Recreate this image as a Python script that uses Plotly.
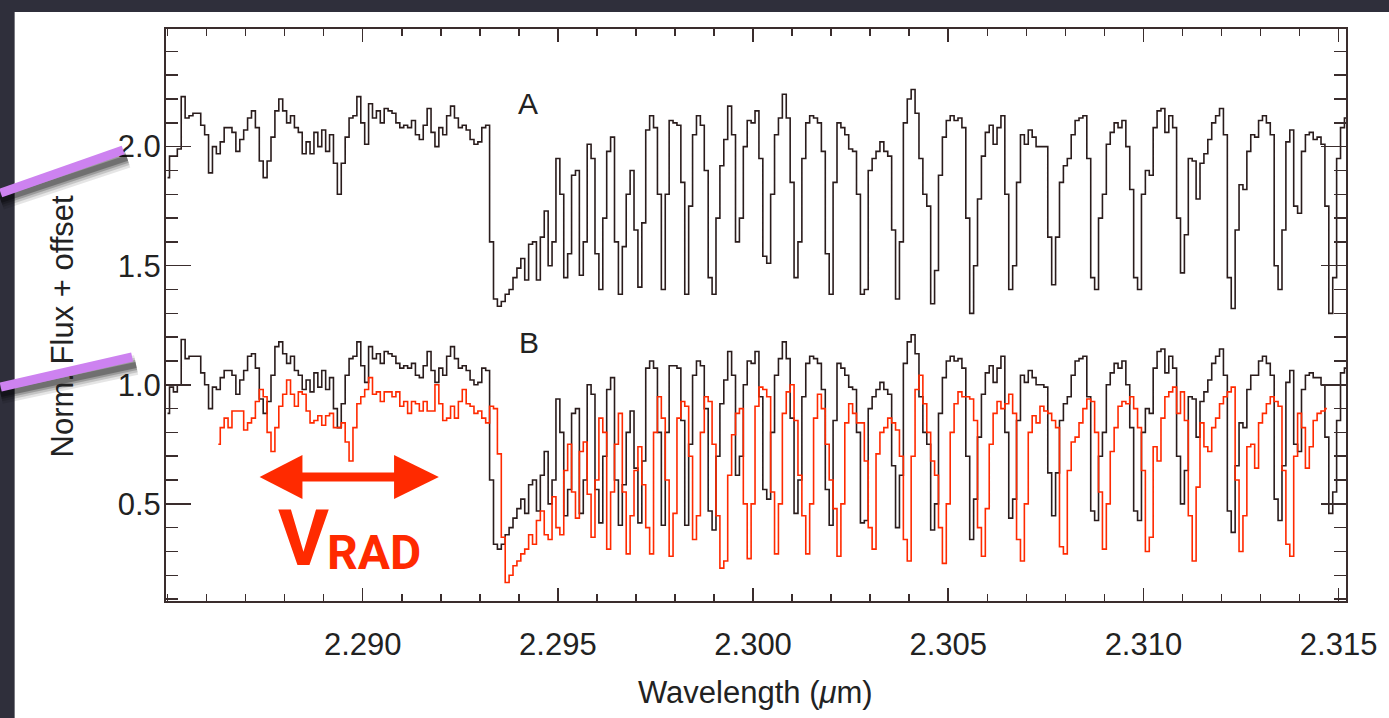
import plotly.graph_objects as go

# ---------------- data ----------------
WL_START = 2.2850      # first sample (micron)
WL_STEP = 0.0001       # sampling step (micron)

# Spectrum A (plotted with +1 offset already included, as read)
flux_a = [
    1.87, 1.96, 1.96, 1.99, 2.21, 2.12, 2.13, 2.14, 2.14, 2.09,
    2.05, 1.89, 2.00, 1.97, 2.02, 2.08, 2.08, 2.06, 1.98, 2.03,
    2.07, 2.12, 2.15, 2.08, 1.94, 1.87, 1.94, 2.04, 2.15, 2.20,
    2.15, 2.10, 2.13, 2.08, 2.06, 1.97, 2.02, 1.97, 2.06, 2.00,
    2.07, 1.98, 2.05, 1.93, 1.80, 1.93, 2.04, 2.12, 2.13, 2.21,
    2.10, 2.01, 2.18, 2.12, 2.15, 2.10, 2.16, 2.15, 2.14, 2.10,
    2.08, 2.09, 2.08, 2.11, 2.05, 2.03, 2.09, 2.16, 2.06, 2.00,
    2.08, 2.05, 2.13, 2.17, 2.12, 2.08, 2.09, 2.07, 2.03, 2.01,
    2.02, 2.08, 2.09, 1.60, 1.36, 1.33, 1.35, 1.38, 1.40, 1.45,
    1.49, 1.53, 1.44, 1.59, 1.60, 1.44, 1.62, 1.73, 1.50, 1.60,
    1.95, 1.80, 1.45, 1.55, 1.88, 1.90, 1.46, 1.60, 2.01, 1.95,
    1.55, 1.40, 1.70, 1.98, 2.04, 1.60, 1.38, 1.58, 1.80, 1.90,
    1.65, 1.41, 1.68, 2.07, 2.13, 2.08, 1.80, 1.40, 1.80, 2.11,
    2.10, 2.09, 1.85, 1.38, 1.75, 2.05, 2.13, 2.09, 1.90, 1.45,
    1.38, 1.70, 1.92, 2.03, 2.17, 2.05, 1.60, 1.70, 2.00, 2.11,
    2.10, 2.15, 1.95, 1.54, 1.51, 1.80, 2.05, 2.12, 2.22, 2.12,
    1.85, 1.45, 1.60, 1.95, 2.10, 2.13, 2.12, 2.10, 1.98, 1.55,
    1.38, 1.85, 2.10, 2.08, 2.05, 1.99, 1.98, 1.80, 1.38, 1.40,
    1.90, 1.95, 1.98, 2.02, 1.98, 1.96, 1.65, 1.36, 1.60, 2.10,
    2.20, 2.24, 2.14, 1.95, 1.80, 1.75, 1.34, 1.48, 1.88, 2.04,
    2.11, 2.13, 2.11, 2.12, 2.08, 1.70, 1.30, 1.50, 1.78, 1.96,
    2.06, 2.09, 2.01, 2.08, 2.13, 1.80, 1.40, 1.50, 1.85, 2.05,
    2.01, 2.07, 2.04, 2.00, 2.00, 2.00, 1.62, 1.42, 1.62, 1.85,
    1.92, 1.95, 2.05, 2.11, 2.12, 2.13, 1.95, 1.45, 1.40, 1.70,
    1.80, 2.01, 2.06, 2.10, 2.08, 2.11, 2.00, 1.82, 1.45, 1.40,
    1.80, 1.90, 1.88, 2.08, 2.15, 2.16, 2.06, 2.13, 2.08, 1.70,
    1.47, 1.63, 1.95, 1.94, 1.78, 1.93, 1.97, 2.03, 2.10, 2.13,
    2.16, 2.05, 1.45, 1.32, 1.65, 1.84, 1.82, 1.98, 2.05, 2.04,
    2.11, 2.13, 2.10, 2.05, 1.50, 1.40, 1.65, 2.02, 2.07, 1.75,
    1.72, 1.98, 2.05, 2.06, 2.03, 2.04, 2.01, 1.75, 1.30, 1.45,
    1.95, 2.08, 2.12,
]

# Spectrum B (black)
flux_b = [
    0.88, 0.99, 0.97, 1.00, 1.19, 1.11, 1.12, 1.12, 1.12, 1.05,
    1.00, 0.90, 0.99, 0.98, 1.03, 1.06, 1.06, 1.04, 0.96, 1.02,
    1.06, 1.12, 1.13, 1.07, 0.94, 0.88, 0.93, 1.04, 1.16, 1.18,
    1.13, 1.09, 1.12, 1.06, 1.04, 0.98, 1.02, 0.97, 1.05, 0.99,
    1.06, 0.98, 1.03, 0.90, 0.82, 0.92, 1.04, 1.11, 1.12, 1.18,
    1.08, 1.01, 1.16, 1.11, 1.13, 1.09, 1.14, 1.13, 1.12, 1.09,
    1.07, 1.08, 1.07, 1.09, 1.04, 1.03, 1.08, 1.14, 1.06, 1.01,
    1.07, 1.04, 1.12, 1.16, 1.11, 1.07, 1.08, 1.06, 1.02, 1.00,
    1.01, 1.07, 1.06, 0.60, 0.33, 0.31, 0.33, 0.37, 0.40, 0.44,
    0.48, 0.52, 0.46, 0.58, 0.60, 0.47, 0.62, 0.72, 0.50, 0.60,
    0.94, 0.80, 0.45, 0.56, 0.88, 0.90, 0.46, 0.60, 1.00, 0.96,
    0.56, 0.42, 0.70, 0.98, 1.03, 0.60, 0.41, 0.58, 0.80, 0.89,
    0.65, 0.42, 0.68, 1.07, 1.10, 1.07, 0.80, 0.41, 0.80, 1.08,
    1.08, 1.07, 0.85, 0.41, 0.75, 1.04, 1.10, 1.08, 0.90, 0.47,
    0.39, 0.70, 0.92, 1.02, 1.14, 1.04, 0.62, 0.70, 1.00, 1.10,
    1.09, 1.14, 0.95, 0.56, 0.52, 0.80, 1.04, 1.11, 1.18, 1.11,
    0.86, 0.46, 0.60, 0.95, 1.09, 1.12, 1.11, 1.09, 0.98, 0.56,
    0.41, 0.85, 1.09, 1.07, 1.04, 0.99, 0.98, 0.80, 0.42, 0.43,
    0.90, 0.95, 0.98, 1.01, 0.98, 0.96, 0.66, 0.40, 0.62, 1.09,
    1.18, 1.21, 1.13, 0.95, 0.80, 0.75, 0.39, 0.50, 0.88, 1.03,
    1.10, 1.12, 1.10, 1.11, 1.07, 0.70, 0.35, 0.52, 0.78, 0.96,
    1.05, 1.08, 1.01, 1.07, 1.12, 0.80, 0.44, 0.52, 0.85, 1.04,
    1.01, 1.06, 1.03, 1.00, 1.00, 0.99, 0.63, 0.45, 0.63, 0.85,
    0.92, 0.95, 1.04, 1.10, 1.11, 1.12, 0.95, 0.47, 0.43, 0.70,
    0.80, 1.00, 1.05, 1.09, 1.07, 1.10, 1.00, 0.82, 0.47, 0.43,
    0.80, 0.90, 0.88, 1.07, 1.14, 1.15, 1.05, 1.12, 1.07, 0.70,
    0.50, 0.64, 0.95, 0.94, 0.78, 0.93, 0.97, 1.02, 1.09, 1.12,
    1.15, 1.04, 0.47, 0.38, 0.66, 0.84, 0.82, 0.98, 1.04, 1.04,
    1.10, 1.12, 1.09, 1.04, 0.52, 0.43, 0.66, 1.01, 1.06, 0.75,
    0.72, 0.98, 1.04, 1.05, 1.03, 1.03, 1.00, 0.78, 0.46, 0.55,
    0.85, 1.05, 1.07,
]

# Red comparison spectrum, starts at sample index 13
RED_START_INDEX = 13
flux_red = [
    0.75, 0.82, 0.86, 0.82, 0.89, 0.89, 0.89,
    0.81, 0.84, 0.86, 0.93, 0.98, 0.95, 0.80, 0.72, 0.82, 0.91,
    0.96, 1.02, 0.96, 0.91, 0.97, 0.96, 0.89, 0.84, 0.85, 0.87,
    0.83, 0.87, 0.88, 0.82, 0.82, 0.84, 0.76, 0.68, 0.82, 0.92,
    0.95, 0.98, 1.03, 0.96, 0.97, 0.93, 0.97, 0.97, 0.95, 0.97,
    0.91, 0.93, 0.88, 0.93, 0.92, 0.89, 0.93, 0.89, 0.89, 1.00,
    0.92, 0.85, 0.86, 0.91, 0.86, 0.93, 0.98, 0.92, 0.91, 0.88,
    0.89, 0.86, 0.84, 0.91, 0.90, 0.71, 0.36, 0.17, 0.20, 0.24,
    0.26, 0.29, 0.31, 0.37, 0.33, 0.43, 0.47, 0.37, 0.35, 0.53,
    0.40, 0.37, 0.64, 0.75, 0.55, 0.44, 0.72, 0.76, 0.54, 0.36,
    0.60, 0.86, 0.80, 0.31, 0.55, 0.75, 0.88, 0.55, 0.29, 0.45,
    0.64, 0.74, 0.58, 0.40, 0.29, 0.80, 0.95, 0.86, 0.60, 0.28,
    0.46, 0.86, 0.93, 0.91, 0.70, 0.35, 0.45, 0.80, 0.95, 0.93,
    0.75, 0.45, 0.23, 0.26, 0.62, 0.79, 0.88, 0.90, 0.50, 0.27,
    0.50, 0.91, 0.99, 0.98, 0.95, 0.55, 0.29, 0.50, 0.88, 0.97,
    1.00, 0.85, 0.62, 0.45, 0.29, 0.50, 0.86, 0.96, 0.90, 0.75,
    0.60, 0.48, 0.28, 0.50, 0.84, 0.92, 0.88, 0.84, 0.84, 0.68,
    0.40, 0.31, 0.71, 0.80, 0.82, 0.86, 0.84, 0.81, 0.70, 0.35,
    0.26, 0.70, 0.98, 1.04, 0.92, 0.80, 0.68, 0.62, 0.40, 0.25,
    0.50, 0.80, 0.92, 0.97, 0.95, 0.95, 0.94, 0.85, 0.40, 0.28,
    0.48, 0.75, 0.88, 0.93, 0.90, 0.92, 0.96, 0.88, 0.35, 0.26,
    0.50, 0.80, 0.87, 0.84, 0.91, 0.89, 0.88, 0.85, 0.82, 0.32,
    0.29, 0.64, 0.76, 0.78, 0.84, 0.90, 0.94, 0.93, 0.80, 0.55,
    0.31, 0.50, 0.72, 0.82, 0.91, 0.93, 0.92, 0.95, 0.90, 0.82,
    0.64, 0.30, 0.36, 0.74, 0.68, 0.86, 0.95, 0.97, 0.99, 0.88,
    0.97, 0.85, 0.45, 0.26, 0.57, 0.84, 0.74, 0.72, 0.82, 0.86,
    0.92, 0.95, 0.97, 0.99, 0.60, 0.30, 0.45, 0.74, 0.75, 0.65,
    0.84, 0.88, 0.92, 0.95, 0.93, 0.91, 0.64, 0.33, 0.28, 0.70,
    0.88, 0.82, 0.65, 0.74, 0.85, 0.88, 0.89, 0.90,
]

wavelength = [round(WL_START + WL_STEP * i, 4) for i in range(len(flux_a))]
wavelength_red = wavelength[RED_START_INDEX:RED_START_INDEX + len(flux_red)]

X_TICKS = [2.290, 2.295, 2.300, 2.305, 2.310, 2.315]
X_TICK_TEXT = ["2.290", "2.295", "2.300", "2.305", "2.310", "2.315"]
Y_TICKS = [0.5, 1.0, 1.5, 2.0]
Y_TICK_TEXT = ["0.5", "1.0", "1.5", "2.0"]
X_RANGE = [2.28496, 2.31519]
Y_RANGE = [0.092, 2.494]

# ---------------- styling ----------------
W, H = 1389, 718
ML, MR, MT, MB = 166, 38, 29, 117
PW, PH = W - ML - MR, H - MT - MB
BLACK = "#2a1c1c"
RED = "#ff2a00"
AXC = "#3a2d2d"
PURPLE = "#cd82f0"
DARK_BG = "#2f2f3b"
FONT = "Liberation Sans, Arial, Helvetica, sans-serif"
BOLD_NARROW = "Roboto, Liberation Sans, sans-serif"


def xp(px):
    return (px - ML) / PW


def yp(py):
    return (H - MB - py) / PH


fig = go.Figure()
fig.add_trace(go.Scatter(x=wavelength, y=flux_a, mode="lines",
                         line=dict(color=BLACK, width=1.6, shape="hvh"),
                         hoverinfo="skip", showlegend=False))
fig.add_trace(go.Scatter(x=wavelength, y=flux_b, mode="lines",
                         line=dict(color=BLACK, width=1.6, shape="hvh"),
                         hoverinfo="skip", showlegend=False))
fig.add_trace(go.Scatter(x=wavelength_red, y=flux_red, mode="lines",
                         line=dict(color=RED, width=1.6, shape="hvh"),
                         hoverinfo="skip", showlegend=False))

shapes = []
# white slide panel
shapes.append(dict(type="rect", xref="paper", yref="paper", layer="below",
                   x0=xp(14), x1=xp(W + 20), y0=yp(H + 20), y1=yp(12),
                   fillcolor="white", line=dict(width=0)))

# purple pointer lines with soft shadow
pointer_lines = [((0, 193), (123, 150)), ((0, 387), (132, 357))]
for (x0, y0), (x1, y1) in pointer_lines:
    for wdt, alpha in [(20, 0.10), (15, 0.14), (10, 0.20), (6, 0.28)]:
        shapes.append(dict(type="line", xref="paper", yref="paper",
                           x0=xp(x0), y0=yp(y0 + 7), x1=xp(x1 + 4), y1=yp(y1 + 8),
                           line=dict(color=f"rgba(0,0,0,{alpha})", width=wdt)))
    shapes.append(dict(type="line", xref="paper", yref="paper",
                       x0=xp(x0), y0=yp(y0), x1=xp(x1), y1=yp(y1),
                       line=dict(color=PURPLE, width=9)))

# red double arrow
AY = 477
shapes.append(dict(type="line", xref="paper", yref="paper",
                   x0=xp(298), y0=yp(AY), x1=xp(402), y1=yp(AY),
                   line=dict(color=RED, width=9)))


def tri(tip, base_x, half):
    return (f"M {xp(tip)} {yp(AY)} L {xp(base_x)} {yp(AY - half)} "
            f"L {xp(base_x)} {yp(AY + half)} Z")


shapes.append(dict(type="path", xref="paper", yref="paper",
                   path=tri(260, 303, 22), fillcolor=RED, line=dict(width=0)))
shapes.append(dict(type="path", xref="paper", yref="paper",
                   path=tri(440, 395, 22), fillcolor=RED, line=dict(width=0)))

annotations = [
    dict(text="A", x=xp(530), y=yp(103), xref="paper", yref="paper",
         showarrow=False, xanchor="center", yanchor="middle",
         font=dict(family=FONT, size=30, color="#222")),
    dict(text="B", x=xp(531), y=yp(342), xref="paper", yref="paper",
         showarrow=False, xanchor="center", yanchor="middle",
         font=dict(family=FONT, size=30, color="#222")),
    dict(text="Norm. Flux + offset", x=xp(63), y=yp(326), xref="paper", yref="paper",
         showarrow=False, xanchor="center", yanchor="middle", textangle=-90,
         font=dict(family=FONT, size=31, color="#222")),
    dict(text="Wavelength (<i>μ</i>m)", x=xp(758), y=yp(692), xref="paper", yref="paper",
         showarrow=False, xanchor="center", yanchor="middle",
         font=dict(family=FONT, size=31, color="#222")),
    dict(text="<b>V</b>", x=xp(304), y=yp(538), xref="paper", yref="paper",
         showarrow=False, xanchor="center", yanchor="middle",
         font=dict(family=BOLD_NARROW, size=78, color=RED)),
    dict(text="<b>RAD</b>", x=xp(326), y=yp(552), xref="paper", yref="paper",
         showarrow=False, xanchor="left", yanchor="middle",
         font=dict(family=BOLD_NARROW, size=48, color=RED)),
]

fig.update_layout(
    width=W, height=H,
    margin=dict(l=ML, r=MR, t=MT, b=MB, pad=0),
    paper_bgcolor=DARK_BG, plot_bgcolor="white",
    shapes=shapes, annotations=annotations,
    showlegend=False,
)
fig.update_xaxes(
    range=X_RANGE, tickmode="array", tickvals=X_TICKS, ticktext=X_TICK_TEXT,
    ticks="inside", ticklen=13, tickwidth=1.5, tickcolor=AXC,
    minor=dict(tickmode="linear", tick0=2.285, dtick=0.001, ticks="inside",
               ticklen=7, tickwidth=1.5, tickcolor=AXC, showgrid=False),
    showline=True, linecolor=AXC, linewidth=2, mirror="ticks",
    showgrid=False, zeroline=False, ticklabelstandoff=15,
    tickfont=dict(family=FONT, size=31, color="#222"),
)
fig.update_yaxes(
    range=Y_RANGE, tickmode="array", tickvals=Y_TICKS, ticktext=Y_TICK_TEXT,
    ticks="inside", ticklen=25, tickwidth=1.5, tickcolor=AXC,
    minor=dict(tickmode="linear", tick0=0.0, dtick=0.1, ticks="inside",
               ticklen=12, tickwidth=1.5, tickcolor=AXC, showgrid=False),
    showline=True, linecolor=AXC, linewidth=2, mirror="ticks",
    showgrid=False, zeroline=False, ticklabelstandoff=-3,
    tickfont=dict(family=FONT, size=31, color="#222"),
)

page_fix = ("document.body.style.margin='0';document.body.style.padding='0';"
            "document.body.style.overflow='hidden';"
            "document.body.style.background='" + DARK_BG + "';")
fig.write_html("out.html", post_script=page_fix,
               config={"displayModeBar": False, "staticPlot": True})
